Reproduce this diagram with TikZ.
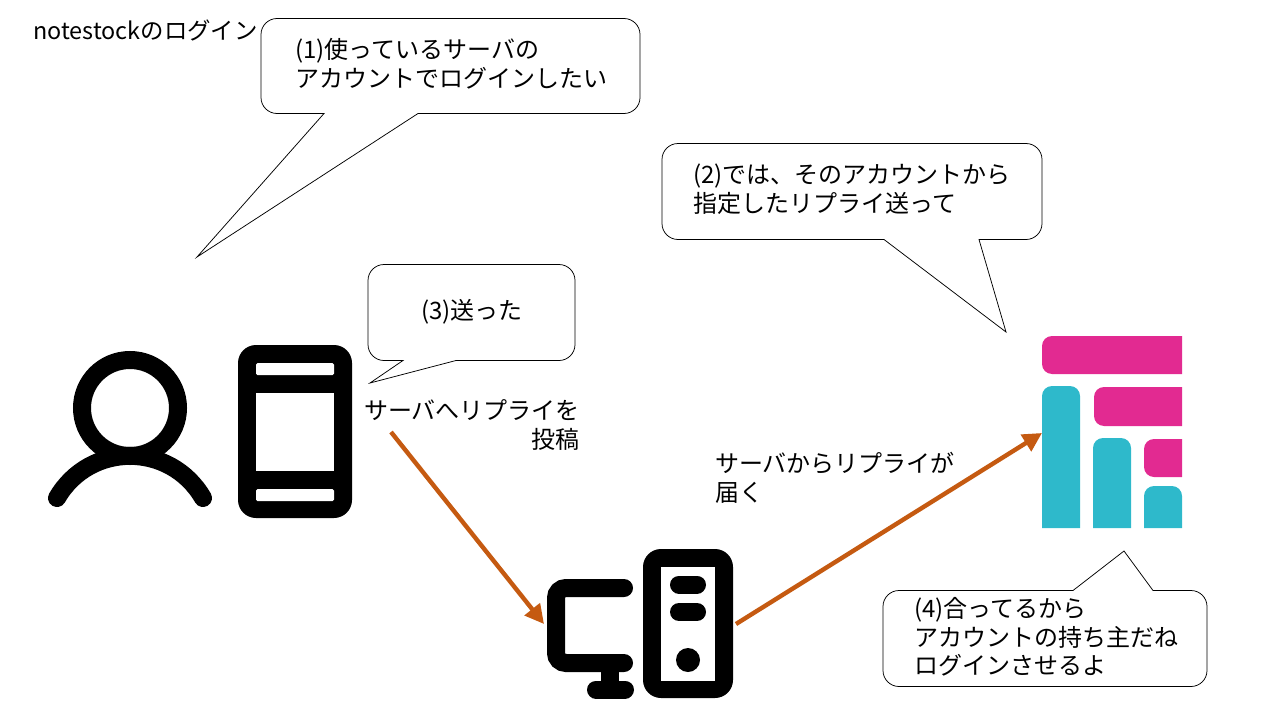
\documentclass[tikz,border=0pt]{standalone}
\usepackage{fontspec}
\setmainfont{Noto Sans CJK JP}
\usetikzlibrary{arrows.meta}
\definecolor{flowarrow}{HTML}{C55A11}
\definecolor{logopink}{HTML}{E22A91}
\definecolor{logoteal}{HTML}{2EB9CB}
\tikzset{
  bubble/.style={draw=black,fill=white,line width=0.75pt,line join=miter},
  txt/.style={anchor=west,inner sep=0pt,align=left,text=black,font=\fontsize{24}{28.7}\selectfont},
  icon/.style={draw=black,line width=18pt,line cap=round,fill=none},
  flow/.style={draw=flowarrow,line width=4.4pt,-{Triangle[length=19pt,width=19pt]}},
}
\begin{document}
\begin{tikzpicture}[x=1pt,y=-1pt]
\useasboundingbox (0,0) rectangle (1280,720);
% callouts
\draw[bubble] (324,113.5) [rounded corners=16pt] -- (261,113.5) -- (261,18.5) -- (640,18.5) -- (640,113.5) -- (500,113.5) [sharp corners] -- (418,113.5) -- (197,257) -- cycle;
\draw[bubble] (884,239.5) [rounded corners=16pt] -- (662,239.5) -- (662,143.5) -- (1042,143.5) -- (1042,239.5) -- (1010,239.5) [sharp corners] -- (979,239.5) -- (1006,332) -- cycle;
\draw[bubble] (403,360.5) [rounded corners=16pt] -- (368,360.5) -- (368,264.5) -- (575,264.5) -- (575,360.5) -- (500,360.5) [sharp corners] -- (456,360.5) -- (370,383) -- cycle;
\draw[bubble] (1153,590.5) [rounded corners=16pt] -- (1207,590.5) -- (1207,686.5) -- (883,686.5) -- (883,590.5) -- (1000,590.5) [sharp corners] -- (1073,590.5) -- (1124,551) -- cycle;
% texts
\node[txt,font=\fontsize{23.4}{28.7}\selectfont] (title) at (33,30) {notestockのログイン};
\node[txt] (t1) at (295,64) {(1)使っているサーバの\\アカウントでログインしたい};
\node[txt] (t2) at (693,189.5) {(2)では、そのアカウントから\\指定したリプライ送って};
\node[txt] (t3) at (421,311.5) {(3)送った};
\node[txt,anchor=east,align=right] (t5) at (580,425) {サーバへリプライを\\投稿};
\node[txt] (t6) at (715,477.5) {サーバからリプライが\\届く};
\node[txt] (t4) at (914,637) {(4)合ってるから\\アカウントの持ち主だね\\ログインさせるよ};
% person
\draw[icon] (130,408) circle[radius=48pt];
\draw[icon] (57,498) .. controls (89.6,441.8) and (170.4,441.8) .. (203,498);
% phone
\fill[black,rounded corners=18pt] (238,345) rectangle (352,518);
\fill[white,rounded corners=1.5pt] (256,363) rectangle (334,375);
\fill[white] (256,393) rectangle (334,471);
\fill[white,rounded corners=1.5pt] (256,489) rectangle (334,501);
% computer
\draw[icon,rounded corners=10pt] (624,588) -- (556,588) -- (556,663) -- (624,663);
\draw[icon,line cap=butt] (610,668) -- (610,685);
\draw[icon] (596,689.5) -- (625,689.5);
\fill[black,rounded corners=18pt] (643,549) rectangle (733,698);
\fill[white] (661,567) rectangle (715,681);
\draw[icon] (679,584.5) -- (697,584.5);
\draw[icon] (679,612) -- (697,612);
\fill[black] (688,660) circle[radius=12pt];
% logo
\fill[logopink] (1182,336) [rounded corners=10pt] -- (1042,336) -- (1042,374) -- (1100,374) [sharp corners] -- (1182,374) -- cycle;
\fill[logopink] (1182,387) [rounded corners=10pt] -- (1094,387) -- (1094,426) -- (1130,426) [sharp corners] -- (1182,426) -- cycle;
\fill[logopink] (1182,439) [rounded corners=10pt] -- (1144,439) -- (1144,477) -- (1165,477) [sharp corners] -- (1182,477) -- cycle;
\fill[logoteal] (1042,528) [rounded corners=10pt] -- (1042,386) -- (1080,386) -- (1080,450) [sharp corners] -- (1080,528) -- cycle;
\fill[logoteal] (1093,528) [rounded corners=10pt] -- (1093,438) -- (1131,438) -- (1131,490) [sharp corners] -- (1131,528) -- cycle;
\fill[logoteal] (1144,528) [rounded corners=10pt] -- (1144,486) -- (1182,486) -- (1182,510) [sharp corners] -- (1182,528) -- cycle;
% connectors
\coordinate (phoneout) at (391,432);
\coordinate (serverin) at (544,624);
\coordinate (serverout) at (736,624);
\coordinate (logoin) at (1042,433);
\draw[flow] (phoneout) -- (serverin);
\draw[flow] (serverout) -- (logoin);
\end{tikzpicture}
\end{document}
